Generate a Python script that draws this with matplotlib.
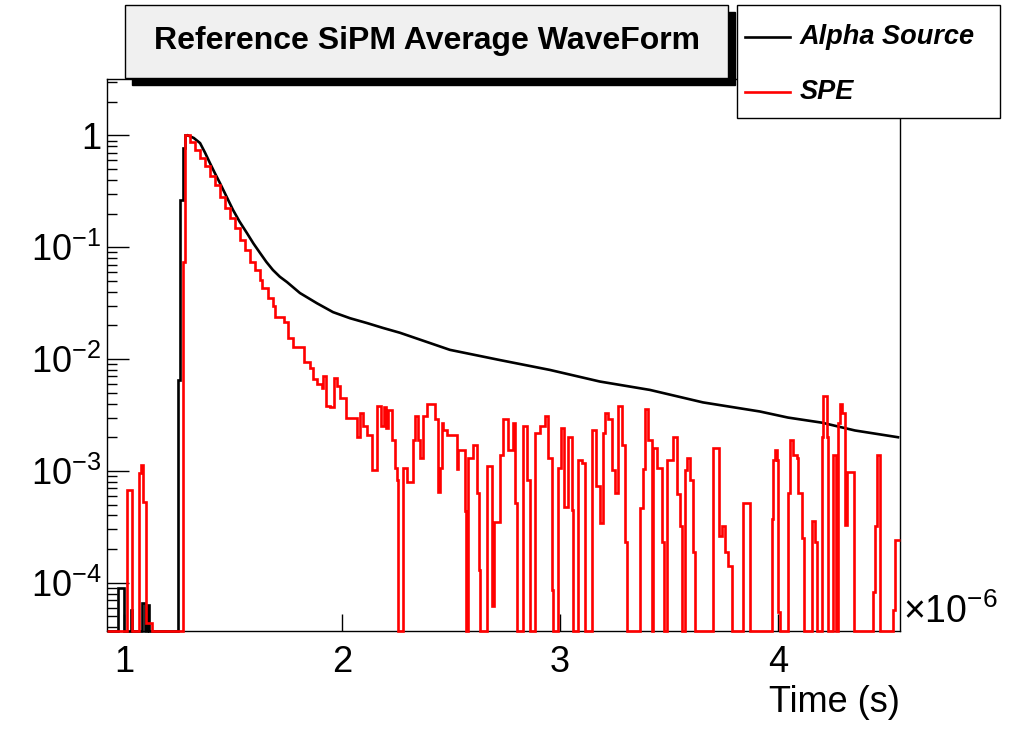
import numpy as np
import matplotlib
matplotlib.use('Agg')
import matplotlib.pyplot as plt
from matplotlib.patches import Rectangle
from matplotlib.lines import Line2D
from matplotlib.ticker import LogLocator, FixedLocator, FixedFormatter, NullFormatter

plt.rcParams['font.family'] = ['Liberation Sans', 'DejaVu Sans']
plt.rcParams['mathtext.fontset'] = 'custom'
plt.rcParams['mathtext.rm'] = 'Liberation Sans'
plt.rcParams['mathtext.it'] = 'Liberation Sans:italic'
plt.rcParams['mathtext.bf'] = 'Liberation Sans:bold'

title = 'Reference SiPM Average WaveForm'
labels = ['Alpha Source', 'SPE']
colors = ['black', 'red']

# times in microseconds (axis shown with x10^-6 multiplier)
alpha_rise_edges = [0.922, 0.972, 1.000, 1.032, 1.037, 1.083, 1.096, 1.106, 1.115,
                    1.248, 1.257, 1.271, 1.280, 1.294]
alpha_rise_vals = [0, 9e-5, 0, 5.7e-5, 0, 6.6e-5, 0, 6.3e-5, 0, 0.0065, 0.265, 0.77, 1.0]

alpha_tail_t = [1.294, 1.320, 1.349, 1.372, 1.394, 1.417, 1.440, 1.470, 1.500, 1.530,
                1.564, 1.594, 1.624, 1.653, 1.683, 1.715, 1.748, 1.807,
                1.885, 1.959, 2.037, 2.115, 2.188, 2.266, 2.495, 2.725, 2.954, 3.183,
                3.413, 3.656, 3.917, 4.046, 4.202, 4.353, 4.551]
alpha_tail_v = [1.0, 0.95, 0.855, 0.70, 0.568, 0.46, 0.376, 0.285, 0.216, 0.170,
                0.134, 0.108, 0.089, 0.074, 0.0627, 0.0545, 0.0488, 0.0390,
                0.0316, 0.0263, 0.0232, 0.0210, 0.0190, 0.0172, 0.0121, 0.0098, 0.0080, 0.0063,
                0.0053, 0.0041, 0.0034, 0.0030, 0.0027, 0.0023, 0.0020]

spe_edges = [0.922, 1.014, 1.037, 1.069, 1.078, 1.087, 1.101, 1.128, 1.271, 1.280,
             1.303, 1.326, 1.349, 1.372, 1.394, 1.417, 1.440, 1.463, 1.486, 1.509,
             1.532, 1.555, 1.578, 1.601, 1.624, 1.633, 1.661, 1.683, 1.693, 1.734,
             1.752, 1.775, 1.826, 1.853, 1.867, 1.885, 1.908, 1.913, 1.927, 1.945,
             1.963, 1.977, 1.991, 2.018, 2.069, 2.083, 2.096, 2.115, 2.138, 2.161,
             2.179, 2.193, 2.202, 2.211, 2.229, 2.243, 2.252, 2.257, 2.280, 2.298,
             2.326, 2.335, 2.349, 2.358, 2.372, 2.390, 2.427, 2.440, 2.450, 2.459,
             2.463, 2.482, 2.528, 2.532, 2.564, 2.569, 2.578, 2.601, 2.619, 2.628,
             2.633, 2.665, 2.688, 2.697, 2.725, 2.739, 2.761, 2.784, 2.794, 2.803,
             2.830, 2.849, 2.862, 2.885, 2.908, 2.931, 2.945, 2.963, 2.968, 2.991,
             3.005, 3.018, 3.037, 3.055, 3.060, 3.083, 3.101, 3.115, 3.147, 3.165,
             3.183, 3.197, 3.206, 3.220, 3.239, 3.252, 3.266, 3.284, 3.298, 3.307,
             3.367, 3.381, 3.390, 3.404, 3.422, 3.427, 3.445, 3.468, 3.477, 3.491,
             3.518, 3.537, 3.550, 3.560, 3.573, 3.583, 3.596, 3.610, 3.619, 3.702,
             3.729, 3.743, 3.757, 3.771, 3.789, 3.840, 3.872, 3.972, 3.977, 3.986,
             3.995, 4.000, 4.009, 4.046, 4.055, 4.069, 4.087, 4.092, 4.110, 4.119,
             4.156, 4.170, 4.179, 4.202, 4.206, 4.225, 4.229, 4.252, 4.266, 4.275,
             4.284, 4.293, 4.307, 4.317, 4.349, 4.436, 4.445, 4.454, 4.468, 4.528,
             4.537, 4.560]
spe_vals = [0, 0.00067, 0, 0.00096, 0.00113, 0.00053, 4.4e-5, 0, 0.074,
            1.0, 0.87, 0.74, 0.63, 0.53, 0.435, 0.36, 0.28, 0.226, 0.183,
            0.149, 0.116, 0.095, 0.074, 0.063, 0.051, 0.043, 0.035, 0.030, 0.024,
            0.0215, 0.0155, 0.0128, 0.0094, 0.0083, 0.0067, 0.0060, 0.0055, 0.0071, 0.0038,
            0.0037, 0.0068, 0.0058, 0.0045, 0.0030, 0.0020, 0.0033, 0.0025, 0.0021, 0.00102,
            0.0038, 0.0025, 0.0037, 0.0024, 0.0035, 0.0019, 0.00107, 0.00083, 0, 0.00107,
            0.00079, 0.0019, 0.0031, 0.0019, 0.0013, 0.0031, 0.0040, 0.0029, 0.00065, 0.00107,
            0.0027, 0.0023, 0.0021, 0.00105, 0.00154, 0.00044, 0, 0.0013, 0.0017, 0.00064,
            0.00013, 0, 0.00110, 6.2e-5, 0.00035, 0.0014, 0.0029, 0.00154, 0.0027, 0.00052,
            0, 0.0025, 0.00083, 0, 0.0022, 0.0025, 0.0031, 0.0013, 8.6e-5, 0,
            0.00107, 0.0024, 0.00048, 0.0020, 0.00045, 0, 0.00125, 0.00118, 0, 0.0023,
            0.00073, 0.00034, 0.0022, 0.0033, 0.0029, 0.00102, 0.00064, 0.0038, 0.0017, 0.00023,
            0, 0.00047, 0.00105, 0.0036, 0.0019, 0, 0.0016, 0.00107, 0.00023, 0,
            0.00125, 0.0020, 0.00062, 0.00032, 0, 0.00102, 0.0013, 0.00083, 0.00019, 0,
            0.0016, 0.00026, 0.00032, 0.00019, 0.00014, 0, 0.00052, 0, 0.00037, 0.00125,
            0.00154, 0.00125, 5.5e-5, 0, 0.00064, 0.0019, 0.0014, 0.0013, 0.00064, 0.00025,
            0, 0.00036, 0.00023, 0, 0.0020, 0.0047, 0.0020, 0, 0.0014, 0,
            0.0027, 0.0040, 0.0033, 0.00033, 0.00098, 0, 8.3e-5, 0.00032, 0.0014, 0,
            5.7e-5, 0.00024]

ymin, ymax = 3.7e-5, 3.2
xmin, xmax = 0.922, 4.560

W, H = 1023, 729
fig = plt.figure(figsize=(W / 100, H / 100), dpi=100)
ax = fig.add_axes([107 / W, 1 - 631 / H, (900 - 107) / W, (631 - 79) / H])
ax.set_yscale('log')
ax.set_xlim(xmin, xmax)
ax.set_ylim(ymin, ymax)

lw = 1.9
ax.stairs(np.clip(alpha_rise_vals, ymin, None), alpha_rise_edges, color=colors[0], lw=lw,
          baseline=None, clip_on=False, zorder=2)
ax.plot(alpha_tail_t, alpha_tail_v, color=colors[0], lw=lw, clip_on=False, zorder=2)
ax.stairs(np.clip(spe_vals, ymin, None), spe_edges, color=colors[1], lw=lw,
          baseline=None, clip_on=False, zorder=3)

# axes ticks, ROOT style
ax.yaxis.set_major_locator(FixedLocator([1e-4, 1e-3, 1e-2, 1e-1, 1]))
ax.yaxis.set_major_formatter(FixedFormatter([r'$10^{-4}$', r'$10^{-3}$', r'$10^{-2}$',
                                             r'$10^{-1}$', '1']))
ax.yaxis.set_minor_locator(LogLocator(base=10, subs=np.arange(2, 10), numticks=20))
ax.yaxis.set_minor_formatter(NullFormatter())
ax.set_xticks([1, 2, 3, 4])
ax.set_xticklabels(['1', '2', '3', '4'])
ax.tick_params(axis='y', which='major', direction='in', length=16, width=1, labelsize=26, pad=4)
ax.tick_params(axis='y', which='minor', direction='in', length=7.5, width=1)
ax.tick_params(axis='x', which='major', direction='in', length=12, width=1, labelsize=26, pad=10)
ax.tick_params(top=False, right=False, which='both')
for s in ax.spines.values():
    s.set_linewidth(1.0)

ax.set_xlabel('Time (s)', loc='right', fontsize=26, labelpad=4)
ax.text(1.004, 0.0, r'$\times10^{-6}$', transform=ax.transAxes, ha='left', va='bottom',
        fontsize=27)

# title box with shadow
fig.add_artist(Rectangle((132 / W, 1 - 85 / H), (735 - 132) / W, (85 - 12) / H,
                         transform=fig.transFigure, facecolor='black', edgecolor='black', zorder=5))
fig.add_artist(Rectangle((125 / W, 1 - 78 / H), (728 - 125) / W, (78 - 5) / H,
                         transform=fig.transFigure, facecolor='#f0f0f0', edgecolor='black',
                         lw=1, zorder=6))
fig.text(427 / W, 1 - 41 / H, title, ha='center', va='center', fontsize=23,
         fontweight='bold', zorder=7)

# legend box, ROOT TLegend layout
fig.add_artist(Rectangle((737 / W, 1 - 118 / H), (1000 - 737) / W, (118 - 5) / H,
                         transform=fig.transFigure, facecolor='white', edgecolor='black',
                         lw=1, zorder=6))
for i, (lab, col) in enumerate(zip(labels, colors)):
    yrow = 1 - (37 + 55 * i) / H
    fig.add_artist(Line2D([745 / W, 790 / W], [yrow, yrow], transform=fig.transFigure,
                          color=col, lw=lw, zorder=7))
    fig.text(800 / W, yrow, lab, ha='left', va='center', fontsize=19.5,
             fontweight='bold', fontstyle='italic', zorder=7)

fig.savefig('out.png', dpi=100)
